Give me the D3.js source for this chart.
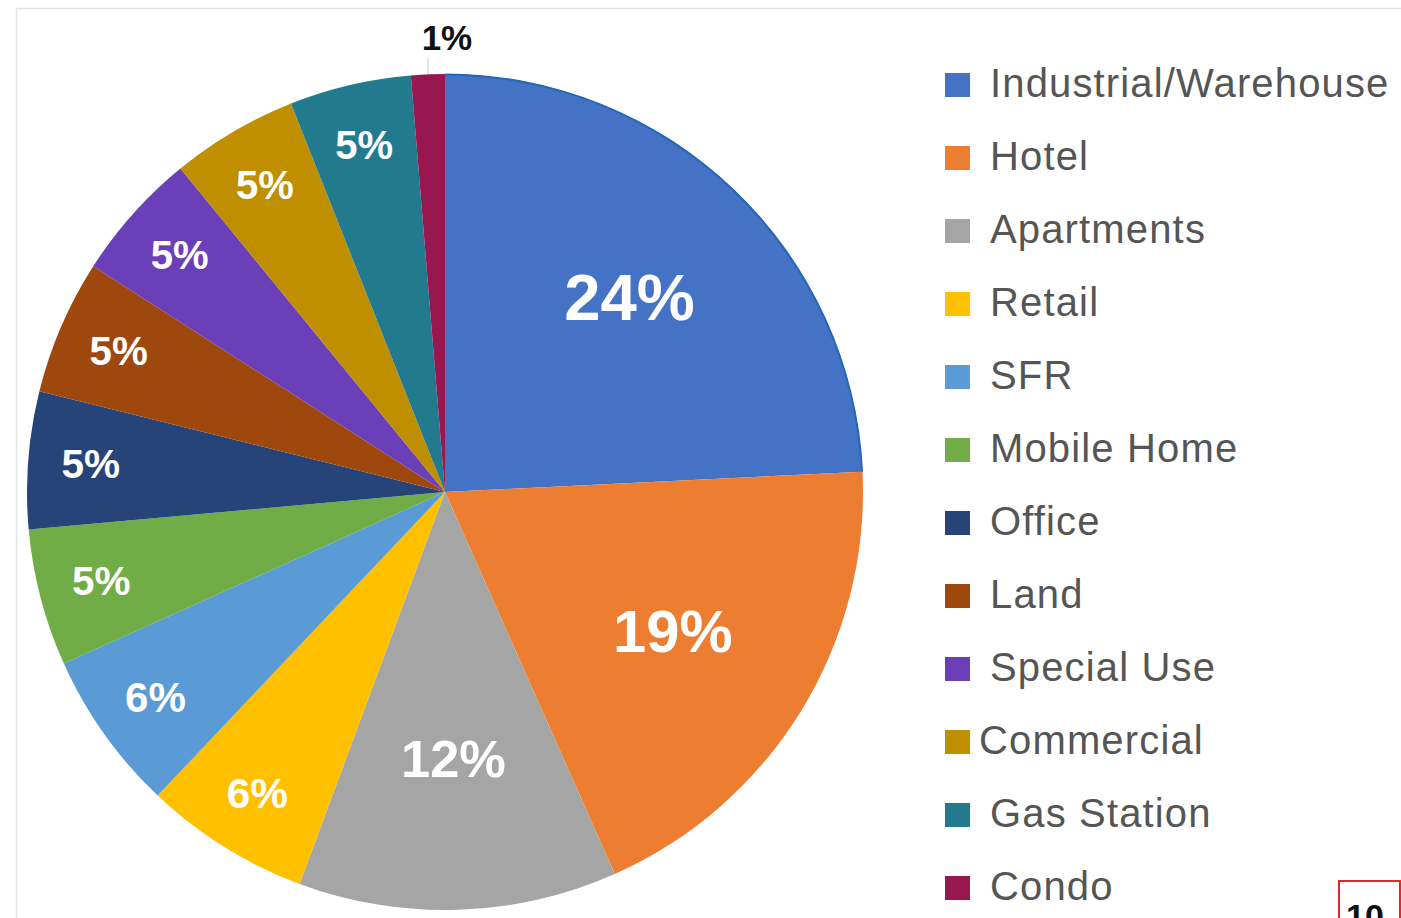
<!DOCTYPE html>
<meta charset="utf-8">
<script src="https://cdnjs.cloudflare.com/ajax/libs/d3/7.8.5/d3.min.js"></script>
<style>
    body {
        margin: 0;
        background: #fff;
        font-family: 'Liberation Sans', Arial, Helvetica, sans-serif;
    }
</style>
<svg width="1401" height="918"></svg>
<script>
    // data (share of deals, %)
    var categories = ["Industrial/Warehouse", "Hotel", "Apartments", "Retail", "SFR", "Mobile Home",
        "Office", "Land", "Special Use", "Commercial", "Gas Station", "Condo"];
    var values = [24.2, 19.1, 12.3, 6.4, 6.2, 5.3, 5.3, 5.2, 5.0, 4.9, 4.7, 1.3];
    var colors = ["#4472C4", "#ED7D31", "#A5A5A5", "#FFC000", "#5B9BD5", "#70AD47",
        "#264478", "#9E480E", "#6A3FB8", "#BF8F00", "#227A8F", "#99174F"];
    var pageNumber = "10";

    var svg = d3.select("svg"),
        cx = 445, cy = 492, radius = 418;

    // page frame
    svg.append("path")
        .attr("d", "M16.5,918 V8.5 H1401")
        .attr("fill", "none")
        .attr("stroke", "#e2e2e2")
        .attr("stroke-width", 1.5);

    var data = categories.map(function(c, i) { return {name: c, value: values[i]}; });

    var color = d3.scaleOrdinal().domain(categories).range(colors);

    var pie = d3.pie()
        .value(function(d) { return d.value; })
        .sort(null);

    var arc = d3.arc().innerRadius(0).outerRadius(radius);
    var bigLabel = d3.arc().innerRadius(radius * 0.64).outerRadius(radius * 0.64);
    var smallLabel = d3.arc().innerRadius(radius * 0.85).outerRadius(radius * 0.85);
    var fontSize = d3.scaleLinear().domain([5, 12, 24]).range([40, 52, 65]);

    var g = svg.append("g").attr("transform", "translate(" + cx + "," + cy + ")");
    var arcs = pie(data);

    g.selectAll("path.slice")
        .data(arcs)
        .enter().append("path")
        .attr("class", "slice")
        .attr("d", arc)
        .attr("fill", function(d) { return color(d.data.name); });

    // thin darker rim on the first slice, like the original
    g.append("path")
        .attr("d", d3.arc().innerRadius(radius - 1.5).outerRadius(radius + 0.5)(arcs[0]))
        .attr("fill", "#2466b8");

    // labels inside slices
    var inside = arcs.filter(function(d) { return d.data.value >= 2; });
    g.selectAll("text.pct")
        .data(inside)
        .enter().append("text")
        .attr("class", "pct")
        .attr("transform", function(d) {
            var a = d.data.value >= 10 ? bigLabel : smallLabel;
            return "translate(" + a.centroid(d) + ")";
        })
        .attr("dy", "0.33em")
        .attr("text-anchor", "middle")
        .attr("fill", "#fff")
        .attr("font-weight", "bold")
        .attr("font-size", function(d) { return Math.max(fontSize(d.data.value), 40) + "px"; })
        .text(function(d) { return Math.round(d.data.value) + "%"; });

    // tiny slice gets an outside label with a leader line
    var outside = arcs.filter(function(d) { return d.data.value < 2; });
    outside.forEach(function(d) {
        var mid = (d.startAngle + d.endAngle) / 2;
        var x0 = Math.sin(mid) * radius, y0 = -Math.cos(mid) * radius;
        g.append("line")
            .attr("x1", x0).attr("y1", y0)
            .attr("x2", x0).attr("y2", y0 - 16)
            .attr("stroke", "#c8c8c8")
            .attr("stroke-width", 1);
        g.append("text")
            .attr("x", x0 + 19)
            .attr("y", y0 - 24)
            .attr("text-anchor", "middle")
            .attr("fill", "#111")
            .attr("font-weight", "bold")
            .attr("font-size", "35px")
            .text(Math.round(d.data.value) + "%");
    });

    // legend
    var legend = svg.append("g")
        .selectAll("g")
        .data(categories)
        .enter().append("g")
        .attr("transform", function(d, i) { return "translate(945," + (97 + i * 73) + ")"; });

    legend.append("rect")
        .attr("x", 0)
        .attr("y", -24)
        .attr("width", 25)
        .attr("height", 24)
        .attr("fill", function(d) { return color(d); });

    legend.append("text")
        .attr("x", function(d) { return d === "Commercial" ? 34 : 45; })
        .attr("y", 0)
        .attr("fill", "#555")
        .attr("font-size", "40px")
        .attr("letter-spacing", "1.15px")
        .text(function(d) { return d; });

    // page number box, cut by the bottom edge as in the original
    svg.append("rect")
        .attr("x", 1339)
        .attr("y", 881)
        .attr("width", 61)
        .attr("height", 50)
        .attr("fill", "#fff")
        .attr("stroke", "#e8262a")
        .attr("stroke-width", 2);

    svg.append("text")
        .attr("x", 1346)
        .attr("y", 928)
        .attr("fill", "#111")
        .attr("font-weight", "bold")
        .attr("font-size", "34px")
        .text(pageNumber);
</script>
